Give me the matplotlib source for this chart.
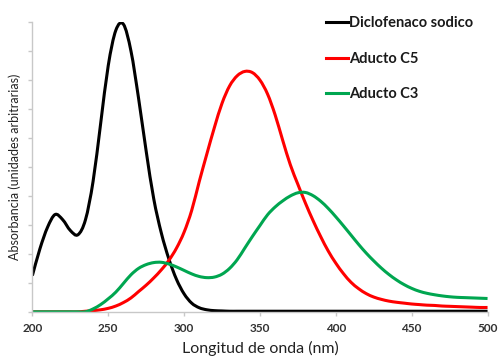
import matplotlib
matplotlib.use('Agg')
import matplotlib.pyplot as plt
from matplotlib.path import Path
from matplotlib.patches import PathPatch
from matplotlib.lines import Line2D

plt.rcParams['font.family'] = ['Lato', 'DejaVu Sans']

# longitud de onda (nm), cada 5 nm
wl = list(range(200, 505, 5))

diclofenaco = [0.125, 0.218, 0.292, 0.336, 0.318, 0.281, 0.266, 0.318, 0.45, 0.65,
               0.85, 0.972, 0.993, 0.90, 0.737, 0.555, 0.39, 0.272, 0.182, 0.112,
               0.062, 0.03, 0.014, 0.007, 0.004, 0.003, 0.002, 0.002, 0.002, 0.002,
               0.002, 0.002, 0.002, 0.002, 0.002, 0.002, 0.002, 0.002, 0.002, 0.002,
               0.002, 0.002, 0.002, 0.002, 0.002, 0.002, 0.002, 0.002, 0.002, 0.002,
               0.002, 0.002, 0.002, 0.002, 0.002, 0.002, 0.002, 0.002, 0.002, 0.002,
               0.002]

aducto_c5 = [0, 0, 0, 0, 0, 0, 0, 0.002, 0.004, 0.007,
             0.012, 0.02, 0.032, 0.048, 0.07, 0.092, 0.117, 0.145, 0.178, 0.22,
             0.275, 0.35, 0.45, 0.545, 0.637, 0.72, 0.78, 0.815, 0.83, 0.826,
             0.80, 0.752, 0.68, 0.592, 0.508, 0.44, 0.375, 0.315, 0.26, 0.21,
             0.168, 0.132, 0.102, 0.08, 0.063, 0.051, 0.043, 0.037, 0.033, 0.03,
             0.027, 0.025, 0.023, 0.022, 0.02, 0.019, 0.018, 0.017, 0.016, 0.015,
             0.015]

aducto_c3 = [0, 0, 0, 0, 0, 0, 0, 0, 0.01, 0.025,
             0.045, 0.068, 0.098, 0.128, 0.15, 0.163, 0.17, 0.171, 0.165, 0.155,
             0.143, 0.131, 0.122, 0.118, 0.12, 0.13, 0.15, 0.18, 0.22, 0.26,
             0.298, 0.335, 0.362, 0.383, 0.40, 0.411, 0.412, 0.401, 0.382, 0.357,
             0.328, 0.297, 0.265, 0.233, 0.203, 0.176, 0.151, 0.129, 0.11, 0.094,
             0.081, 0.071, 0.064, 0.059, 0.055, 0.052, 0.05, 0.049, 0.048, 0.047,
             0.046]

xticks = [200, 250, 300, 350, 400, 450, 500]

names = ['Diclofenaco sodico', 'Aducto C5', 'Aducto C3']
colores = ['black', '#ff0000', '#00a650']


def linea_suave(x, y):
    # curva bezier tipo "linea suavizada" de Excel (catmull-rom)
    verts = [(x[0], y[0])]
    codes = [Path.MOVETO]
    n = len(x)
    for i in range(n - 1):
        x0, y0 = (x[i - 1], y[i - 1]) if i > 0 else (x[i], y[i])
        x3, y3 = (x[i + 2], y[i + 2]) if i + 2 < n else (x[i + 1], y[i + 1])
        c1 = (x[i] + (x[i + 1] - x0) / 6, y[i] + (y[i + 1] - y0) / 6)
        c2 = (x[i + 1] - (x3 - x[i]) / 6, y[i + 1] - (y3 - y[i]) / 6)
        verts += [c1, c2, (x[i + 1], y[i + 1])]
        codes += [Path.CURVE4] * 3
    return Path(verts, codes)


fig = plt.figure(figsize=(4.98, 3.58), dpi=100)
ax = fig.add_axes([0.065, 0.129, 0.914, 0.809])

handles = []
for name, vals, col in zip(names, [diclofenaco, aducto_c5, aducto_c3], colores):
    ax.add_patch(PathPatch(linea_suave(wl, vals), facecolor='none', edgecolor=col,
                           lw=2.2, capstyle='butt'))
    handles.append(Line2D([], [], color=col, lw=2.2))

ax.set_xlim(200, 500)
ax.set_ylim(0, 1)
ax.set_xticks(xticks, labels=[str(t) for t in xticks], fontweight='bold')
ax.set_yticks([i / 10 for i in range(11)])
ax.set_yticklabels([])

for s in ['top', 'right']:
    ax.spines[s].set_visible(False)
for s in ['left', 'bottom']:
    ax.spines[s].set_color('#c8c8c8')
    ax.spines[s].set_linewidth(1.0)
ax.tick_params(axis='both', colors='#c8c8c8', length=3, width=1.0,
               labelcolor='#333333', labelsize=8.5)
ax.tick_params(axis='x', pad=5)

ax.set_xlabel('Longitud de onda (nm)', fontsize=11.5, color='#222222', labelpad=5)
ax.set_ylabel('Absorbancia (unidades arbitrarias)', fontsize=9, color='#222222', labelpad=2)

leg = ax.legend(handles, names, loc='upper left', bbox_to_anchor=(0.645, 1.02), frameon=False,
                handlelength=1.5, handletextpad=0.1, labelspacing=1.47,
                prop={'size': 10.5, 'weight': 'bold'},
                borderpad=0, borderaxespad=0)
for t in leg.get_texts():
    t.set_color('#1a1a1a')

fig.savefig('out.png', dpi=100)
